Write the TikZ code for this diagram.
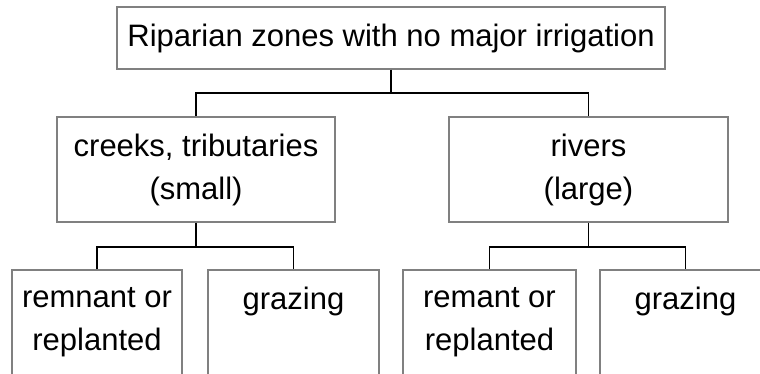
\documentclass[tikz,border=0pt]{standalone}
\usepackage{fontspec}
\setmainfont{Liberation Sans}
\usetikzlibrary{positioning}
\definecolor{boxgray}{RGB}{128,128,128}

\begin{document}
\begin{tikzpicture}[x=1pt, y=-1pt, B/.style = {rectangle, draw=boxgray, align=center,
			line width=1.5pt, inner sep=0pt, minimum height=105pt,
			font=\fontsize{31}{43}\selectfont},
		L/.style = {line width=1.5pt, black}
		]
		\useasboundingbox (0,0) rectangle (760,374);
		\clip (0,0) rectangle (760,374);
		\begin{scope}[nodes=B]
			\node[minimum width=548pt, minimum height=62pt] (1) at (391,38) {Riparian zones with no major irrigation};
			\node[minimum width=278pt] (2) at (196,169.5) {creeks, tributaries\\(small)};
			\node[minimum width=279pt] (3) at (588.5,169.5) {rivers\\(large)};
			\node[minimum width=170pt] (4) at (97,322.5) {remnant or\\replanted};
			\node[minimum width=171pt] (5) at (293.5,322.5) {grazing\\\vphantom{p}};
			\node[minimum width=173pt] (6) at (489.5,322.5) {remant or\\replanted};
			\node[minimum width=171pt] (7) at (685.5,322.5) {grazing\\\vphantom{p}};
		\end{scope}
		
		\coordinate (j1) at (391,93);
		\coordinate (j2) at (196,247);
		\coordinate (j3) at (588.5,247);
		
		\draw[L] (1) -- (j1);
		\draw[L] (2) |- (j1) -| (3);
		\draw[L] (2) -- (j2);
		\draw[L] (4) |- (j2) -| (5);
		\draw[L] (3) -- (j3);
		\draw[L] (6) |- (j3) -| (7);
	\end{tikzpicture}
\end{document}
